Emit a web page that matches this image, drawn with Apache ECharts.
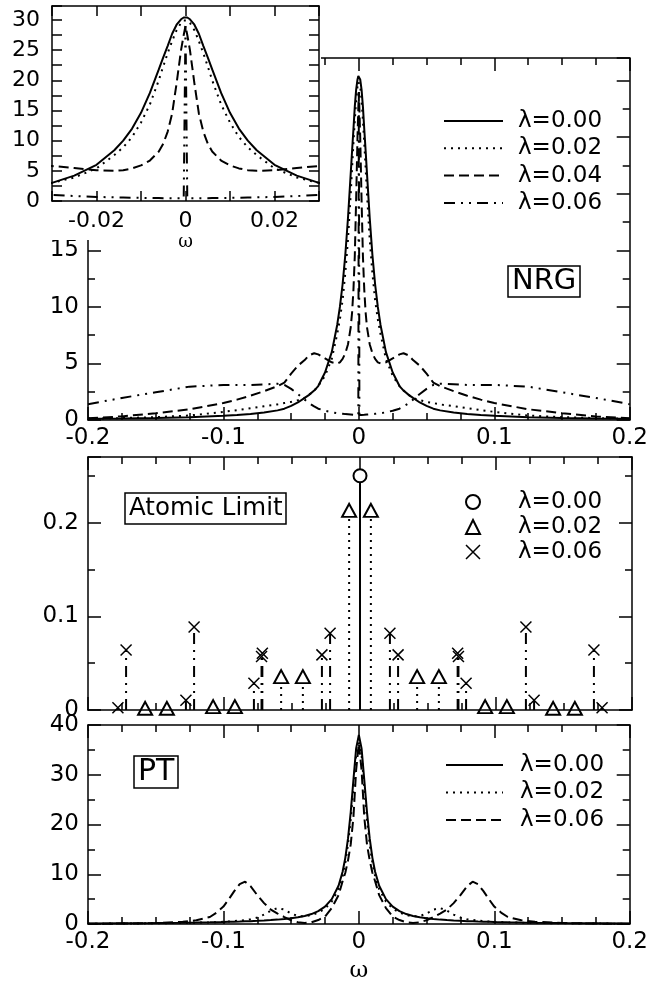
<!DOCTYPE html>
<html><head><meta charset="utf-8">
<script src="https://cdn.jsdelivr.net/npm/echarts@6/dist/echarts.min.js"></script>
<style>html,body{margin:0;padding:0;background:#fff}#c{width:651px;height:984px}</style>
</head><body><div id="c"></div>
<script>
// ---------------- NRG spectral functions (main panel + inset) ----------------
const nrgOmega = [-0.2, -0.175, -0.15, -0.125, -0.1, -0.09, -0.08, -0.07, -0.06, -0.055, -0.05, -0.045, -0.04, -0.037, -0.033, -0.03, -0.025, -0.02, -0.016, -0.014, -0.012, -0.01, -0.008, -0.006, -0.005, -0.004, -0.003, -0.002, -0.001, -0.0004, 0, 0.0004, 0.001, 0.002, 0.003, 0.004, 0.005, 0.006, 0.008, 0.01, 0.012, 0.014, 0.016, 0.02, 0.025, 0.03, 0.033, 0.037, 0.04, 0.045, 0.05, 0.055, 0.06, 0.07, 0.08, 0.09, 0.1, 0.125, 0.15, 0.175, 0.2];
const nrgL000 = [0.1, 0.13, 0.18, 0.25, 0.38, 0.44, 0.53, 0.66, 0.85, 1.0, 1.25, 1.55, 1.95, 2.2, 2.6, 3.0, 4.2, 6.0, 8.4, 10.0, 12.0, 14.6, 17.9, 21.8, 23.8, 25.7, 27.7, 29.2, 30.1, 30.4, 30.5, 30.4, 30.1, 29.2, 27.7, 25.7, 23.8, 21.8, 17.9, 14.6, 12.0, 10.0, 8.4, 6.0, 4.2, 3.0, 2.6, 2.2, 1.95, 1.55, 1.25, 1.0, 0.85, 0.66, 0.53, 0.44, 0.38, 0.25, 0.18, 0.13, 0.1];
const nrgL002 = [0.12, 0.17, 0.25, 0.4, 0.72, 0.87, 1.04, 1.22, 1.38, 1.5, 1.6, 1.75, 1.95, 2.2, 2.6, 3.0, 3.9, 5.4, 7.6, 8.9, 10.6, 13.0, 16.0, 20.0, 22.3, 24.5, 26.5, 28.3, 29.5, 29.9, 30.0, 29.9, 29.5, 28.3, 26.5, 24.5, 22.3, 20.0, 16.0, 13.0, 10.6, 8.9, 7.6, 5.4, 3.9, 3.0, 2.6, 2.2, 1.95, 1.75, 1.6, 1.5, 1.38, 1.22, 1.04, 0.87, 0.72, 0.4, 0.25, 0.17, 0.12];
const nrgL004 = [0.15, 0.32, 0.6, 0.95, 1.5, 1.8, 2.15, 2.55, 3.0, 3.3, 4.1, 4.8, 5.3, 5.7, 5.9, 5.8, 5.45, 5.1, 5.0, 5.1, 5.4, 5.9, 6.7, 8.2, 9.5, 11.5, 14.5, 19.5, 25.0, 27.5, 29.0, 27.5, 25.0, 19.5, 14.5, 11.5, 9.5, 8.2, 6.7, 5.9, 5.4, 5.1, 5.0, 5.1, 5.45, 5.8, 5.9, 5.7, 5.3, 4.8, 4.1, 3.3, 3.0, 2.55, 2.15, 1.8, 1.5, 0.95, 0.6, 0.32, 0.15];
const nrgL006 = [1.4, 1.95, 2.45, 2.95, 3.1, 3.1, 3.1, 3.15, 3.2, 3.1, 2.75, 2.3, 1.8, 1.5, 1.2, 1.0, 0.82, 0.68, 0.6, 0.58, 0.55, 0.52, 0.5, 0.48, 0.47, 0.46, 0.45, 0.45, 0.45, 0.45, 29.0, 0.45, 0.45, 0.45, 0.45, 0.46, 0.47, 0.48, 0.5, 0.52, 0.55, 0.58, 0.6, 0.68, 0.82, 1.0, 1.2, 1.5, 1.8, 2.3, 2.75, 3.1, 3.2, 3.15, 3.1, 3.1, 3.1, 2.95, 2.45, 1.95, 1.4];

// ---------------- Atomic limit (stick spectra) ----------------
const atomOmega000 = [0];
const atomVal000 = [0.25];
const atomOmega002 = [-0.158, -0.142, -0.108, -0.092, -0.058, -0.042, -0.008, 0.008, 0.042, 0.058, 0.092, 0.108, 0.142, 0.158];
const atomVal002 = [0.0018, 0.0018, 0.0036, 0.0036, 0.0356, 0.0356, 0.213, 0.213, 0.0356, 0.0356, 0.0036, 0.0036, 0.0018, 0.0018];
const atomOmega006 = [-0.178, -0.172, -0.128, -0.122, -0.078, -0.0724, -0.0718, -0.028, -0.022, 0.022, 0.028, 0.0718, 0.0724, 0.078, 0.122, 0.128, 0.172, 0.178];
const atomVal006 = [0.0025, 0.064, 0.0105, 0.0886, 0.0285, 0.057, 0.0606, 0.0588, 0.082, 0.082, 0.0588, 0.0606, 0.057, 0.0285, 0.0886, 0.0105, 0.064, 0.0025];

// ---------------- PT spectral functions ----------------
const ptOmega = [-0.2, -0.175, -0.15, -0.13, -0.12, -0.11, -0.105, -0.1, -0.096, -0.092, -0.088, -0.084, -0.08, -0.075, -0.07, -0.065, -0.06, -0.055, -0.05, -0.045, -0.04, -0.035, -0.03, -0.025, -0.02, -0.015, -0.012, -0.01, -0.008, -0.006, -0.004, -0.002, 0, 0.002, 0.004, 0.006, 0.008, 0.01, 0.012, 0.015, 0.02, 0.025, 0.03, 0.035, 0.04, 0.045, 0.05, 0.055, 0.06, 0.065, 0.07, 0.075, 0.08, 0.084, 0.088, 0.092, 0.096, 0.1, 0.105, 0.11, 0.12, 0.13, 0.15, 0.175, 0.2];
const ptL000 = [0.1, 0.14, 0.19, 0.25, 0.29, 0.34, 0.37, 0.4, 0.43, 0.46, 0.49, 0.53, 0.57, 0.63, 0.7, 0.78, 0.88, 1.0, 1.15, 1.35, 1.6, 2.0, 2.6, 3.5, 5.0, 7.7, 10.5, 13.3, 17.2, 22.5, 29, 35.3, 38, 35.3, 29, 22.5, 17.2, 13.3, 10.5, 7.7, 5.0, 3.5, 2.6, 2.0, 1.6, 1.35, 1.15, 1.0, 0.88, 0.78, 0.7, 0.63, 0.57, 0.53, 0.49, 0.46, 0.43, 0.4, 0.37, 0.34, 0.29, 0.25, 0.19, 0.14, 0.1];
const ptL002 = [0.06, 0.09, 0.14, 0.21, 0.26, 0.33, 0.38, 0.44, 0.5, 0.58, 0.68, 0.8, 0.95, 1.3, 1.9, 2.7, 3.2, 2.9, 2.1, 1.6, 1.55, 1.8, 2.3, 3.1, 4.5, 7.0, 9.6, 12.3, 16, 21, 27.5, 34, 37, 34, 27.5, 21, 16, 12.3, 9.6, 7.0, 4.5, 3.1, 2.3, 1.8, 1.55, 1.6, 2.1, 2.9, 3.2, 2.7, 1.9, 1.3, 0.95, 0.8, 0.68, 0.58, 0.5, 0.44, 0.38, 0.33, 0.26, 0.21, 0.14, 0.09, 0.06];
const ptL006 = [0.05, 0.08, 0.2, 0.45, 0.75, 1.4, 2.3, 3.5, 5.0, 6.6, 8.0, 8.5, 7.6, 5.8, 4.2, 2.9, 2.1, 1.4, 0.75, 0.35, 0.2, 0.35, 0.8, 1.5, 3.2, 5.8, 8.6, 10.3, 12.8, 16, 21.5, 31, 36.3, 31, 21.5, 16, 12.8, 10.3, 8.6, 5.8, 3.2, 1.5, 0.8, 0.35, 0.2, 0.35, 0.75, 1.4, 2.1, 2.9, 4.2, 5.8, 7.6, 8.5, 8.0, 6.6, 5.0, 3.5, 2.3, 1.4, 0.75, 0.45, 0.2, 0.08, 0.05];

// ---------------- legend / tick labels ----------------
const nrgNames = ['λ=0.00', 'λ=0.02', 'λ=0.04', 'λ=0.06'];
const atomNames = ['λ=0.00 ', 'λ=0.02 ', 'λ=0.06 '];
const ptNames = ['λ=0.00  ', 'λ=0.02  ', 'λ=0.06  '];
const insetXLabels = ['-0.02', '0', '0.02'];

const FONT = 'DejaVu Sans';
const SOLID = 'solid', DOT = [2, 5], DASH = [10, 5], DASHDOT = [11, 6, 2, 6, 2, 6];

function mkAxis(o) {
  return {
    type: 'value', gridIndex: o.grid, position: o.pos,
    min: o.min, max: o.max, interval: o.interval,
    z: o.z || 5,
    axisLine: {show: o.line !== false, onZero: false, lineStyle: {color: '#000', width: 1.5}},
    axisTick: {show: true, inside: true, length: o.tickLen, lineStyle: {color: '#000', width: 1.5}},
    minorTick: {show: !!o.minorSplit, splitNumber: o.minorSplit || 5, length: o.minorLen || 7, lineStyle: {color: '#000', width: 1.5}},
    splitLine: {show: false}, minorSplitLine: {show: false},
    axisLabel: {show: !!o.labels, inside: false, margin: o.margin || 8, formatter: o.formatter,
      fontFamily: FONT, fontSize: o.fontSize || 23, color: '#000'},
    name: o.name || '', nameLocation: 'middle', nameGap: o.nameGap || 0,
    nameTextStyle: {fontFamily: 'DejaVu Serif', fontSize: o.nameSize || 20, color: '#000'},
    silent: true
  };
}
const X = {min: -0.2, max: 0.2, interval: 0.1, tickLen: 13, minorSplit: 4, minorLen: 7};
const xAxis = [
  mkAxis(Object.assign({grid: 0, pos: 'bottom', labels: true, margin: 7}, X)),
  mkAxis(Object.assign({grid: 0, pos: 'top'}, X)),
  mkAxis({grid: 1, pos: 'bottom', min: -0.03, max: 0.03, interval: 0.01, tickLen: 10, labels: true, margin: 9, fontSize: 22, z: 60,
    formatter: v => { const r = Math.round(v * 100); return (r % 2 === 0 && Math.abs(r) <= 2) ? insetXLabels[r / 2 + 1] : ''; },
    name: 'ω', nameGap: 22, nameSize: 18}),
  mkAxis({grid: 1, pos: 'top', min: -0.03, max: 0.03, interval: 0.01, tickLen: 10, z: 60}),
  mkAxis(Object.assign({grid: 2, pos: 'bottom'}, X)),
  mkAxis(Object.assign({grid: 2, pos: 'top'}, X)),
  mkAxis(Object.assign({grid: 3, pos: 'bottom', labels: true, margin: 7, name: 'ω', nameGap: 36, nameSize: 23}, X)),
  mkAxis(Object.assign({grid: 3, pos: 'top'}, X))
];
const yAxis = [
  mkAxis({grid: 0, pos: 'left', min: 0, max: 32, interval: 5, tickLen: 13, labels: true, margin: 9, formatter: v => v <= 15 ? String(v) : ''}),
  mkAxis({grid: 0, pos: 'left', min: 0, max: 32, interval: 2.5, tickLen: 7, line: false}),
  mkAxis({grid: 0, pos: 'right', min: 0, max: 32, interval: 5, tickLen: 13}),
  mkAxis({grid: 0, pos: 'right', min: 0, max: 32, interval: 2.5, tickLen: 7, line: false}),
  mkAxis({grid: 1, pos: 'left', min: 0, max: 32.3, interval: 2.5, tickLen: 10, labels: true, margin: 12, fontSize: 22, z: 60,
    formatter: v => (Math.abs(v % 5) < 1e-6 && v <= 30) ? String(v) : ''}),
  mkAxis({grid: 1, pos: 'right', min: 0, max: 32.3, interval: 2.5, tickLen: 10, z: 60}),
  mkAxis({grid: 2, pos: 'left', min: 0, max: 0.27, interval: 0.1, tickLen: 13, labels: true, margin: 9,
    formatter: v => (v < 0.25 && Math.abs(v * 10 - Math.round(v * 10)) < 1e-6) ? String(Math.round(v * 10) / 10) : ''}),
  mkAxis({grid: 2, pos: 'left', min: 0, max: 0.27, interval: 0.05, tickLen: 7, line: false}),
  mkAxis({grid: 2, pos: 'right', min: 0, max: 0.27, interval: 0.1, tickLen: 13}),
  mkAxis({grid: 2, pos: 'right', min: 0, max: 0.27, interval: 0.05, tickLen: 7, line: false}),
  mkAxis({grid: 3, pos: 'left', min: 0, max: 40, interval: 10, tickLen: 13, minorSplit: 2, minorLen: 7, labels: true, margin: 9}),
  mkAxis({grid: 3, pos: 'right', min: 0, max: 40, interval: 10, tickLen: 13, minorSplit: 2, minorLen: 7})
];

function pairs(xs, ys) { return xs.map((x, i) => [x, ys[i]]); }
function lineSeries(name, xs, ys, xi, yi, dash, z) {
  return {type: 'line', name: name, xAxisIndex: xi, yAxisIndex: yi, data: pairs(xs, ys),
    symbol: 'none', showSymbol: false, smooth: false, clip: true, z: z || 2,
    lineStyle: {color: '#000', width: 2, type: dash}, itemStyle: {color: '#000'}, silent: true, animation: false};
}
function stickSeries(xs, ys, dash) {
  return {type: 'custom', xAxisIndex: 4, yAxisIndex: 6, data: pairs(xs, ys), z: 3, silent: true, animation: false,
    renderItem: function (params, api) {
      const a = api.coord([api.value(0), 0]);
      const b = api.coord([api.value(0), api.value(1)]);
      return {type: 'line', shape: {x1: a[0], y1: a[1], x2: b[0], y2: b[1]},
        style: {stroke: '#000', lineWidth: 2, lineDash: dash === SOLID ? null : dash}};
    }};
}
function markSeries(name, xs, ys, symbol, size) {
  return {type: 'scatter', name: name, xAxisIndex: 4, yAxisIndex: 6, data: pairs(xs, ys), z: 4,
    symbol: symbol, symbolSize: size, silent: true, animation: false,
    itemStyle: {color: '#000', borderColor: '#000', borderWidth: 1.5, opacity: 1}};
}
const CROSS = 'path://M0,0L10,10M10,0L0,10';

const series = [
  lineSeries(nrgNames[0], nrgOmega, nrgL000, 0, 0, SOLID),
  lineSeries(nrgNames[1], nrgOmega, nrgL002, 0, 0, DOT),
  lineSeries(nrgNames[2], nrgOmega, nrgL004, 0, 0, DASH),
  lineSeries(nrgNames[3], nrgOmega, nrgL006, 0, 0, DASHDOT),
  lineSeries('inset0', nrgOmega, nrgL000, 2, 4, SOLID, 61),
  lineSeries('inset1', nrgOmega, nrgL002, 2, 4, DOT, 61),
  lineSeries('inset2', nrgOmega, nrgL004, 2, 4, DASH, 61),
  lineSeries('inset3', nrgOmega, nrgL006, 2, 4, DASHDOT, 61),
  stickSeries(atomOmega000, atomVal000, SOLID),
  stickSeries(atomOmega002, atomVal002, DOT),
  stickSeries(atomOmega006, atomVal006, DASHDOT),
  markSeries(atomNames[0], atomOmega000, atomVal000, 'emptyCircle', 13),
  markSeries(atomNames[1], atomOmega002, atomVal002, 'emptyTriangle', [14, 13]),
  markSeries(atomNames[2], atomOmega006, atomVal006, CROSS, 11),
  lineSeries(ptNames[0], ptOmega, ptL000, 6, 10, SOLID),
  lineSeries(ptNames[1], ptOmega, ptL002, 6, 10, DOT),
  lineSeries(ptNames[2], ptOmega, ptL006, 6, 10, DASH)
];

const legTxt = (pad) => ({fontFamily: FONT, fontSize: 23, lineHeight: 24, color: '#000', padding: [0, 0, 0, pad]});
const legend = [
  {data: nrgNames, orient: 'vertical', left: 443, top: 109, padding: 0, itemWidth: 59, itemHeight: 24, itemGap: 3.3,
    selectedMode: false, textStyle: legTxt(10), itemStyle: {opacity: 0}, lineStyle: {width: 2}},
  {data: atomNames, orient: 'vertical', left: 465, top: 490, padding: 0, itemWidth: 14, itemHeight: 14, itemGap: 1,
    selectedMode: false, textStyle: legTxt(33), itemStyle: {borderWidth: 1.5, opacity: 1}},
  {data: ptNames, orient: 'vertical', left: 445, top: 753, padding: 0, itemWidth: 57, itemHeight: 24, itemGap: 3.5,
    selectedMode: false, textStyle: legTxt(12), itemStyle: {opacity: 0}, lineStyle: {width: 2}}
];

const boxTitle = (text, left, top, size, lh) => ({text: text, left: left, top: top, padding: [1, 4],
  borderColor: '#000', borderWidth: 1.5,
  textStyle: {fontFamily: FONT, fontSize: size, fontWeight: 'normal', color: '#000', lineHeight: lh}});

const option = {
  animation: false,
  backgroundColor: '#fff',
  textStyle: {fontFamily: FONT},
  title: [boxTitle('NRG', 508, 268, 29, 25), boxTitle('Atomic Limit', 125, 493, 24.5, 29), boxTitle('PT', 134, 756, 30, 30)],
  legend: legend,
  grid: [
    {left: 88, top: 58, width: 544, height: 362},
    {left: 52, top: 6, width: 267, height: 195},
    {left: 88, top: 457, width: 544, height: 253},
    {left: 88, top: 725, width: 544, height: 203}
  ],
  xAxis: xAxis,
  yAxis: yAxis,
  graphic: {elements: [{type: 'rect', shape: {x: 0, y: 0, width: 321, height: 240}, style: {fill: '#fff'}, z: 50, silent: true}]},
  series: series
};
const chart = echarts.init(document.getElementById('c'), null, {renderer: 'canvas'});
chart.setOption(option);
</script></body></html>
